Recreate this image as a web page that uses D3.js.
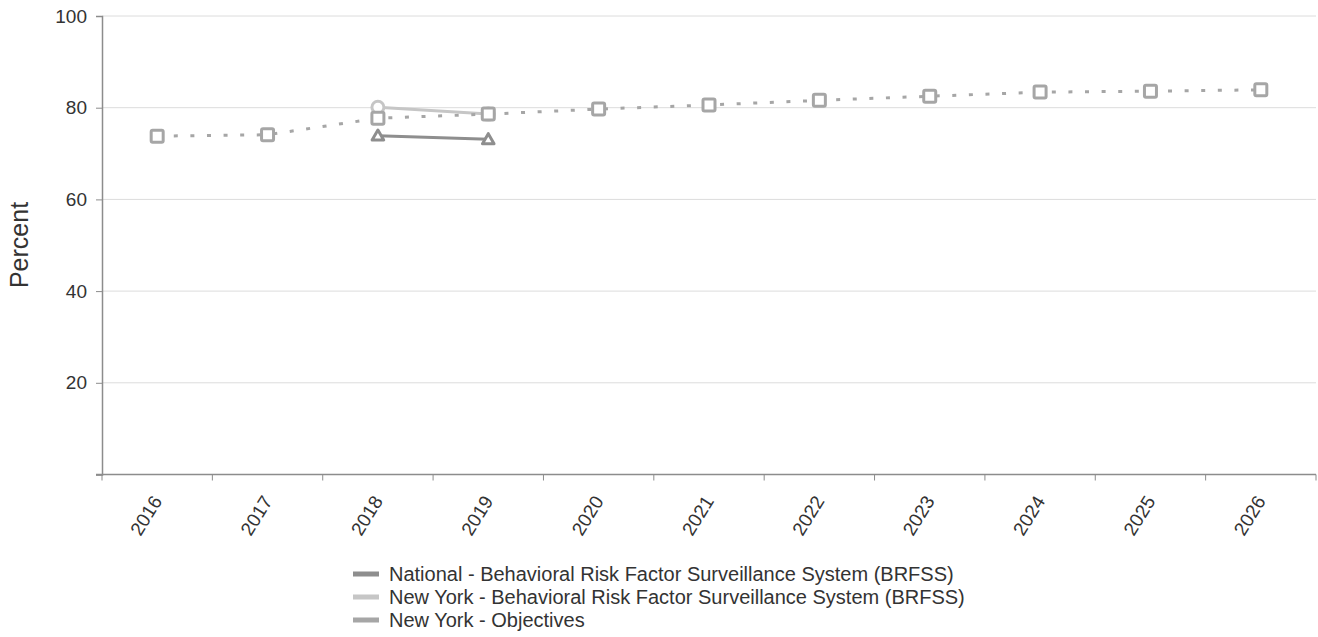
<!DOCTYPE html>
<html>
<head>
<meta charset="utf-8">
<script src="https://cdn.jsdelivr.net/npm/d3@7"></script>
<style>
  html, body { margin: 0; padding: 0; background: #fff; }
  svg { display: block; font-family: "Liberation Sans", Arial, sans-serif; }
</style>
</head>
<body>
<svg id="chart" width="1318" height="637"></svg>
<script>
const years = ["2016","2017","2018","2019","2020","2021","2022","2023","2024","2025","2026"];
const yTicks = [0, 20, 40, 60, 80, 100];
const nationalYears = ["2018","2019"];
const nationalValues = [73.9, 73.1];
const nyYears = ["2018","2019"];
const nyValues = [80.1, 78.6];
const objYears = years;
const objValues = [73.8, 74.1, 77.7, 78.6, 79.7, 80.6, 81.6, 82.5, 83.4, 83.6, 83.9];
const legendLabels = [
  "National - Behavioral Risk Factor Surveillance System (BRFSS)",
  "New York - Behavioral Risk Factor Surveillance System (BRFSS)",
  "New York - Objectives"
];

(function () {
const colNat = "#8e8e8e", colNY = "#c6c6c6", colObj = "#a6a6a6";
const svg = d3.select("#chart");
const pL = 102, pR = 1316, pT = 16, pB = 474.5;

const x = d3.scaleBand().domain(years).range([pL, pR]);
const y = d3.scaleLinear().domain([0, 100]).range([pB, pT]);
const cx = d => x(d) + x.bandwidth() / 2;

// gridlines
svg.append("g").selectAll("line").data(yTicks.filter(t => t > 0)).join("line")
  .attr("x1", pL).attr("x2", pR)
  .attr("y1", d => y(d)).attr("y2", d => y(d))
  .attr("stroke", "#dcdcdc").attr("stroke-width", 1);

// y axis
const yAxis = svg.append("g").attr("transform", `translate(${pL},0)`)
  .call(d3.axisLeft(y).tickValues(yTicks).tickSize(6).tickPadding(9)
    .tickFormat(d => d === 0 ? "" : d));
yAxis.select(".domain").attr("stroke", "#8c8c8c").attr("stroke-width", 1.5);
yAxis.selectAll(".tick line").attr("stroke", "#8c8c8c");
yAxis.selectAll("text").attr("font-size", 19).attr("fill", "#333")
  .attr("font-family", "Liberation Sans, Arial, sans-serif");

// x axis with ticks at band boundaries
const xAxis = svg.append("g").attr("transform", `translate(0,${pB})`);
xAxis.append("line").attr("x1", pL - 6).attr("x2", pR).attr("y1", 0).attr("y2", 0)
  .attr("stroke", "#8c8c8c").attr("stroke-width", 1.5);
const bounds = years.map(d => x(d)).concat([x(years[years.length - 1]) + x.bandwidth()]);
xAxis.selectAll("line.tk").data(bounds).join("line").attr("class", "tk")
  .attr("x1", d => d).attr("x2", d => d).attr("y1", 0).attr("y2", 6)
  .attr("stroke", "#8c8c8c");
xAxis.selectAll("text").data(years).join("text")
  .attr("transform", d => `translate(${cx(d)},${23}) rotate(-58)`)
  .attr("text-anchor", "end").attr("dy", "0.35em")
  .attr("font-size", 19).attr("fill", "#333")
  .text(d => d);

// y label
svg.append("text").attr("transform", `translate(28,245) rotate(-90)`)
  .attr("text-anchor", "middle").attr("font-size", 25).attr("fill", "#333")
  .text("Percent");

const line = d3.line().x(d => cx(d[0])).y(d => y(d[1]));

// national
const natData = nationalYears.map((d, i) => [d, nationalValues[i]]);
svg.append("path").datum(natData).attr("d", line).attr("fill", "none")
  .attr("stroke", colNat).attr("stroke-width", 3);
svg.append("g").selectAll("path").data(natData).join("path")
  .attr("d", d3.symbol().type(d3.symbolTriangle).size(58))
  .attr("transform", d => `translate(${cx(d[0])},${y(d[1]) + 1})`)
  .attr("fill", "#fff").attr("stroke", colNat).attr("stroke-width", 3)
  .attr("stroke-linejoin", "round");

// New York BRFSS
const nyData = nyYears.map((d, i) => [d, nyValues[i]]);
svg.append("path").datum(nyData).attr("d", line).attr("fill", "none")
  .attr("stroke", colNY).attr("stroke-width", 3);
svg.append("g").selectAll("circle").data(nyData).join("circle")
  .attr("cx", d => cx(d[0])).attr("cy", d => y(d[1])).attr("r", 6)
  .attr("fill", "#fff").attr("stroke", colNY).attr("stroke-width", 3);

// Objectives
const objData = objYears.map((d, i) => [d, objValues[i]]);
svg.append("path").datum(objData).attr("d", line).attr("fill", "none")
  .attr("stroke", colObj).attr("stroke-width", 3).attr("stroke-dasharray", "4 12.6");
svg.append("g").selectAll("rect").data(objData).join("rect")
  .attr("x", d => cx(d[0]) - 6).attr("y", d => y(d[1]) - 6)
  .attr("width", 12).attr("height", 12).attr("rx", 1.5)
  .attr("fill", "#fff").attr("stroke", colObj).attr("stroke-width", 3);

// legend
const legCols = [colNat, colNY, colObj];
const leg = svg.append("g");
legendLabels.forEach((t, i) => {
  const ly = 574 + i * 23;
  leg.append("rect").attr("x", 353).attr("y", ly - 2.5).attr("width", 26).attr("height", 5)
    .attr("fill", legCols[i]);
  leg.append("text").attr("x", 389).attr("y", ly).attr("dy", "0.35em")
    .attr("font-size", 20).attr("fill", "#333").text(t);
});
})();
</script>
</body>
</html>
